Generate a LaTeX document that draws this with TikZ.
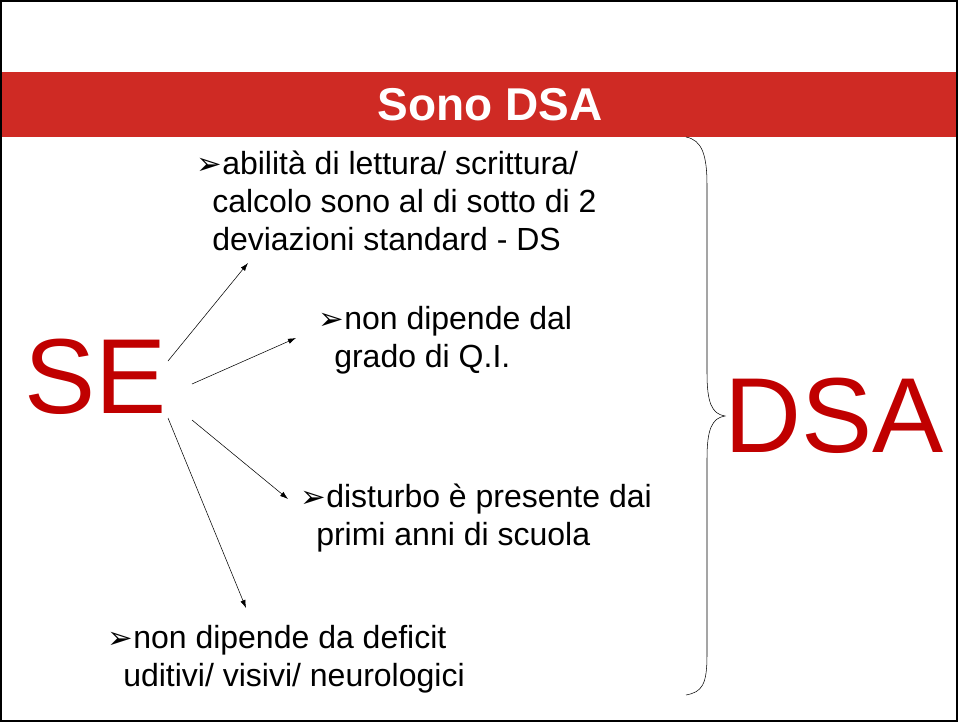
\documentclass[tikz,border=0pt]{standalone}
\usepackage{fontspec}
\setmainfont{Liberation Sans}
\newfontfamily\dejavu{DejaVu Sans}
\usetikzlibrary{arrows.meta}
\definecolor{bandred}{RGB}{207,42,36}
\definecolor{bigred}{RGB}{192,0,0}
\newcommand\bul{\makebox[19.5pt][l]{\dejavu\bfseries\fontsize{23}{24}\selectfont ➢}}
\newcommand\ind{\hspace*{12pt}}
\tikzset{
  item/.style={anchor=base west, inner sep=0pt, align=left,
    font=\fontsize{24}{28.5}\selectfont},
  big/.style={anchor=base west, inner sep=0pt, text=bigred},
  arr/.style={-{Latex[length=6pt,width=4pt]}, thin}
}
\begin{document}
\begin{tikzpicture}[x=0.75pt,y=-0.75pt]
  \useasboundingbox (0,0) rectangle (958,722);
  % title band
  \fill [bandred] (0,72) rectangle (958,137);
  \node (title) at (490,105) [text=white, font=\fontsize{34.5}{36}\bfseries\selectfont] {Sono DSA};
  \draw [line width=1.5pt] (1,1) rectangle (957,721);
  % big words
  \node (se) at (24,413) [big, font=\fontsize{80}{82}\selectfont] {SE};
  \node (dsa) at (724,452) [big, font=\fontsize{80}{82}\selectfont] {DSA};
  % items (base = last line)
  \node (i1) at (196,250) [item] {\bul abilità di lettura/ scrittura/\\
    \ind calcolo sono al di sotto di 2\\ \ind deviazioni standard - DS};
  \node (i2) at (318,367) [item] {\bul non dipende dal\\ \ind grado di Q.I.};
  \node (i3) at (300,545) [item] {\bul disturbo è presente dai\\ \ind primi anni di scuola};
  \node (i4) at (107,686) [item] {\bul non dipende da deficit\\ \ind uditivi/ visivi/ neurologici};
  % arrows
  \coordinate (s1) at (168,361);
  \coordinate (s2) at (192,384);
  \coordinate (s3) at (192,420);
  \coordinate (s4) at (168,418);
  \coordinate (t1) at (248,263);
  \coordinate (t2) at (296,338);
  \coordinate (t3) at (288,499);
  \coordinate (t4) at (246,608);
  \foreach \k in {1,...,4}
    \draw [arr] (s\k) -- (t\k);
  % brace
  \coordinate (btop) at (686,137);
  \coordinate (btip) at (725,416);
  \coordinate (bbot) at (686,695);
  \draw [thin] (btop) .. controls (702,140) and (707,155) .. (707,185)
    -- (707,373) .. controls (707,403) and (712,414) .. (btip)
    .. controls (712,418) and (707,429) .. (707,459)
    -- (707,655) .. controls (707,685) and (702,692) .. (bbot);
\end{tikzpicture}
\end{document}
